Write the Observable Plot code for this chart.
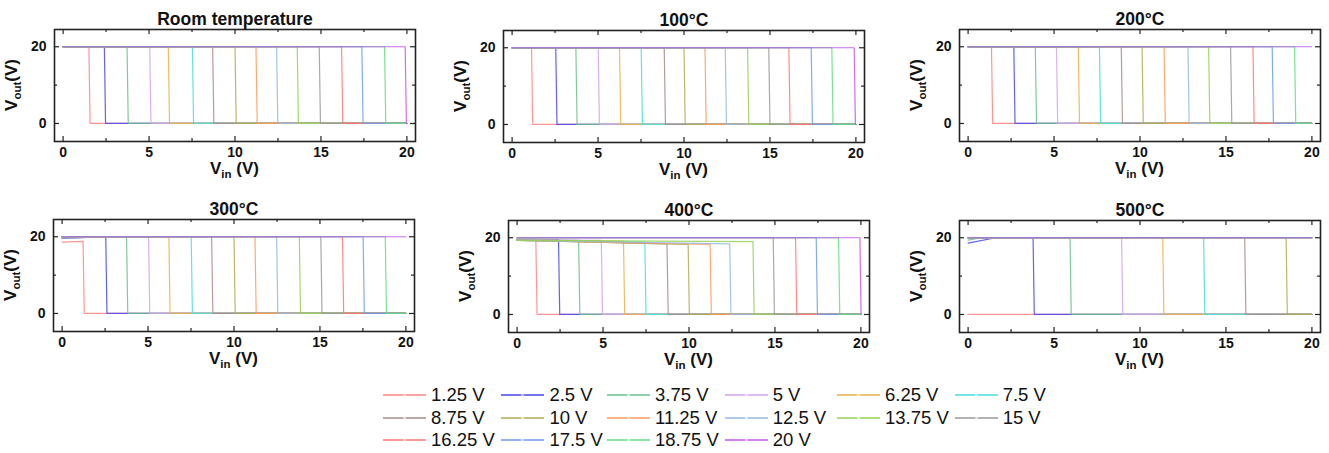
<!DOCTYPE html>
<html><head><meta charset="utf-8">
<script src="https://cdn.jsdelivr.net/npm/d3@7"></script>
<script src="https://cdn.jsdelivr.net/npm/@observablehq/plot@0.6"></script>
<style>
body{margin:0;background:#fff;}
#root{position:relative;width:1329px;height:453px;overflow:hidden;font-family:"Liberation Sans",Arial,sans-serif;}
.panel{position:absolute;}
#legend{position:absolute;left:383px;top:384px;display:grid;grid-template-columns:118.4px 105.6px 117.7px 112.3px 117.7px auto;grid-auto-rows:22.5px;font-size:18.5px;color:#111;}
.item{display:flex;align-items:center;white-space:nowrap;}
.item svg{margin-right:5px;display:block;}
</style></head><body><div id="root"></div>
<script>
// ---- data ----
const seriesLabels = ["1.25 V","2.5 V","3.75 V","5 V","6.25 V","7.5 V","8.75 V","10 V","11.25 V","12.5 V","13.75 V","15 V","16.25 V","17.5 V","18.75 V","20 V"];
const seriesColors = ["#ff8383","#4646ee","#68c08c","#d3a2ea","#e8b246","#46dede","#a98a8a","#b2aa52","#ff9a58","#94bae2","#94d154","#9a9a9a","#ff7474","#6a9cee","#62de82","#c454ea"];
const panelTitles = ["Room temperature","100°C","200°C","300°C","400°C","500°C"];
// switching input voltage (V) per series; null = stays high, 0 = stays low
const dropRT  = [1.5, 2.4, 3.72, 5.04, 6.12, 7.52, 8.7, 10.0, 11.22, 12.42, 13.62, 14.9, 16.2, 17.38, 18.7, 19.9];
const drop100 = [1.13, 2.54, 3.71, 5.01, 6.25, 7.51, 8.85, 10.0, 11.22, 12.4, 13.7, 14.93, 16.1, 17.4, 18.6, 19.9];
const drop200 = [1.36, 2.66, 3.91, 5.14, 6.41, 7.64, 8.91, 10.12, 11.4, 12.79, 13.99, 15.27, 16.57, 17.69, 18.99, null];
const drop300 = [1.22, 2.54, 3.75, 5.03, 6.21, 7.51, 8.7, 10.0, 11.22, 12.48, 13.8, 15.05, 16.31, 17.51, 18.8, null];
const drop400 = [1.09, 2.41, 3.58, 4.9, 6.19, 7.43, 8.72, 9.95, 11.23, 12.37, 13.72, 14.9, 16.2, 17.4, 18.7, 19.94];
const drop500 = [0, 3.78, 5.93, 8.93, 11.32, 13.7, 16.09, 18.5, null, null, null, null, null, null, null, null];
// high output level (V) at Vin = 0 and just before switching
const hiStart300 = [18.6, 19.6, 19.7, 19.8, 20, 20, 20, 20, 20, 20, 20, 20, 20, 20, 20, 20];
const hiEnd300   = [18.8, 20, 20, 20, 20, 20, 20, 20, 20, 20, 20, 20, 20, 20, 20, 20];
const hiStart400 = [19.6, 19.6, 19.5, 19.5, 19.4, 19.4, 19.4, 19.3, 19.3, 19.3, 19.3, 20, 20, 20, 20, 20];
const hiEnd400   = [19.6, 19.5, 19.3, 19.3, 19.1, 18.9, 18.4, 18.3, 18.3, 18.4, 19.0, 20, 20, 20, 20, 20];
const hiStart500 = [20, 18.6, 19.4, 20, 20, 20, 20, 20, 20, 20, 20, 20, 20, 20, 20, 20];
const hiReach500 = [null, 1.6, 0.8, null, null, null, null, null, null, null, null, null, null, null, null, null];
const lowLevel = 0;
const highLevel = 20;
const vinMax = 20;
const xMajorTicks = [0, 5, 10, 15, 20];
const xMinorTicks = [2.5, 7.5, 12.5, 17.5];
const yMajorTicks = [0, 20];
const yMinorTicks = [10];

// ---- layout ----
const FW = 361, FH = 112;
const ML = 50, MT = 30, MR = 10, MB = 42;
const panels = [
  {title: panelTitles[0], drops: dropRT,  fx: 54,    fy: 29.3},
  {title: panelTitles[1], drops: drop100, fx: 503.3, fy: 30},
  {title: panelTitles[2], drops: drop200, fx: 959,   fy: 29},
  {title: panelTitles[3], drops: drop300, hiStart: hiStart300, hiEnd: hiEnd300, fx: 53.3, fy: 219.3},
  {title: panelTitles[4], drops: drop400, hiStart: hiStart400, hiEnd: hiEnd400, fx: 508.3, fy: 220},
  {title: panelTitles[5], drops: drop500, hiStart: hiStart500, hiReach: hiReach500, fx: 959, fy: 219.7}
];

function buildRows(p) {
  const rows = [];
  seriesLabels.forEach((s, i) => {
    const t = p.drops[i];
    const hs = p.hiStart ? p.hiStart[i] : highLevel;
    const he = p.hiEnd ? p.hiEnd[i] : highLevel;
    const reach = p.hiReach ? p.hiReach[i] : null;
    const pts = [];
    if (t === 0) {
      pts.push([0, lowLevel], [vinMax, lowLevel]);
    } else {
      pts.push([0, hs]);
      if (reach != null) pts.push([reach, he]);
      if (t === null) {
        pts.push([vinMax, he]);
      } else {
        pts.push([t, he], [t + 0.07, lowLevel], [vinMax, lowLevel]);
      }
    }
    pts.forEach(([x, y]) => rows.push({series: s, vin: x, vout: y}));
  });
  return rows;
}

const root = document.getElementById("root");
const font = '"Liberation Sans", Arial, sans-serif';

panels.forEach(p => {
  const rows = buildRows(p);
  const svg = Plot.plot({
    width: ML + FW + MR, height: MT + FH + MB,
    marginLeft: ML, marginRight: MR, marginTop: MT, marginBottom: MB,
    x: {domain: [-0.5, 20.5], axis: null},
    y: {domain: [-4.7, 24.5], axis: null},
    color: {domain: seriesLabels, range: seriesColors},
    style: {fontFamily: font, fontWeight: "bold", color: "#111", background: "transparent", overflow: "visible"},
    marks: [
      Plot.line(rows, {x: "vin", y: "vout", z: "series", stroke: "series", strokeWidth: 1.2, strokeOpacity: 0.85}),
      Plot.tickX(xMajorTicks, {x: d => d, insetTop: FH - 5, stroke: "#222", strokeWidth: 1.2}),
      Plot.tickX(xMajorTicks, {x: d => d, insetBottom: FH - 5, stroke: "#222", strokeWidth: 1.2}),
      Plot.tickX(xMinorTicks, {x: d => d, insetTop: FH - 3, stroke: "#222", strokeWidth: 1.2}),
      Plot.tickX(xMinorTicks, {x: d => d, insetBottom: FH - 3, stroke: "#222", strokeWidth: 1.2}),
      Plot.tickY(yMajorTicks, {y: d => d, insetRight: FW - 5, stroke: "#222", strokeWidth: 1.2}),
      Plot.tickY(yMajorTicks, {y: d => d, insetLeft: FW - 5, stroke: "#222", strokeWidth: 1.2}),
      Plot.tickY(yMinorTicks, {y: d => d, insetRight: FW - 3, stroke: "#222", strokeWidth: 1.2}),
      Plot.tickY(yMinorTicks, {y: d => d, insetLeft: FW - 3, stroke: "#222", strokeWidth: 1.2}),
      Plot.frame({stroke: "#222", strokeWidth: 1.6}),
      Plot.text(xMajorTicks, {x: d => d, text: d => String(d), frameAnchor: "bottom", lineAnchor: "top", dy: 6, fontSize: 14, fontWeight: "bold", fill: "#111"}),
      Plot.text(yMajorTicks, {y: d => d, text: d => String(d), frameAnchor: "left", textAnchor: "end", dx: -8, fontSize: 14, fontWeight: "bold", fill: "#111"}),
      Plot.text([p.title], {frameAnchor: "top", lineAnchor: "bottom", dy: -4.5, fontSize: 17.5, fontWeight: "bold", fill: "#111"})
    ]
  });
  svg.classList.add("panel");
  svg.style.left = (p.fx - ML) + "px";
  svg.style.top = (p.fy - MT) + "px";
  const s = d3.select(svg);
  // x label V_in (V)
  const xl = s.append("text")
    .attr("x", ML + FW / 2).attr("y", MT + FH + 33)
    .attr("text-anchor", "middle").attr("font-size", 17).attr("font-weight", "bold").attr("fill", "#111");
  xl.append("tspan").text("V");
  xl.append("tspan").attr("dy", 4).attr("font-size", 11.5).text("in");
  xl.append("tspan").attr("dy", -4).text(" (V)");
  // y label V_out(V)
  const yl = s.append("text")
    .attr("transform", `translate(${ML - 37},${MT + FH / 2}) rotate(-90)`)
    .attr("text-anchor", "middle").attr("font-size", 17).attr("font-weight", "bold").attr("fill", "#111");
  yl.append("tspan").text("V");
  yl.append("tspan").attr("dy", 4).attr("font-size", 11.5).text("out");
  yl.append("tspan").attr("dy", -4).text("(V)");
  root.appendChild(svg);
});

// legend
const legend = document.createElement("div");
legend.id = "legend";
seriesLabels.forEach((s, i) => {
  const item = document.createElement("div");
  item.className = "item";
  item.innerHTML = `<svg width="43" height="8"><line x1="0" x2="43" y1="4" y2="4" stroke="${seriesColors[i]}" stroke-width="1.6"/><circle cx="21.5" cy="4" r="1.6" fill="#fff" fill-opacity="0.6"/></svg><span>${s}</span>`;
  legend.appendChild(item);
});
root.appendChild(legend);
</script>
</body></html>
